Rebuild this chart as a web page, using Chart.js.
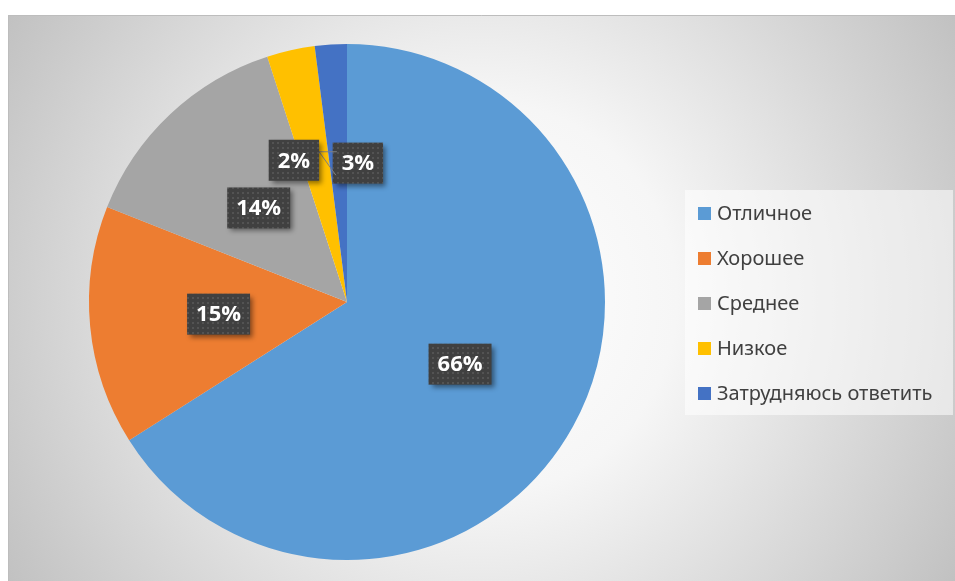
<!DOCTYPE html>
<html lang="ru">
<head>
  <meta charset="UTF-8">
  <title>Оценка</title>
  <script src="https://cdn.jsdelivr.net/npm/chart.js"></script>
  <style>
    html, body { margin: 0; padding: 0; background: #fff; }
    #wrap { position: relative; width: 955px; height: 581px; }
  </style>
</head>
<body>
  <div id="wrap">
    <canvas id="pieChart" width="955" height="581"></canvas>
  </div>

  <script>
    // data
    const categories = ["Отличное", "Хорошее", "Среднее", "Низкое", "Затрудняюсь ответить"];
    const values = [66, 15, 14, 3, 2];
    const colors = ["#5B9BD5", "#ED7D31", "#A5A5A5", "#FFC000", "#4472C4"];

    const W = 955, H = 581;

    // background: framed area with a radial grey gradient
    const bgPlugin = {
      id: "bg",
      beforeDraw(chart) {
        const ctx = chart.ctx;
        ctx.save();
        ctx.fillStyle = "#fff";
        ctx.fillRect(0, 0, W, H);
        const g = ctx.createRadialGradient(481, 298, 0, 481, 298, 560);
        g.addColorStop(0, "#ffffff");
        g.addColorStop(0.35, "#f6f6f6");
        g.addColorStop(1, "#c0c0c0");
        ctx.fillStyle = g;
        ctx.fillRect(8, 15, W - 8, H - 15);
        ctx.strokeStyle = "#bdbdbd";
        ctx.lineWidth = 1;
        ctx.beginPath();
        ctx.moveTo(8.5, H);
        ctx.lineTo(8.5, 15.5);
        ctx.lineTo(W, 15.5);
        ctx.stroke();
        ctx.restore();
      }
    };

    // dotted fill for the label boxes
    function makeDots(ctx) {
      const c = document.createElement("canvas");
      c.width = 5; c.height = 5;
      const x = c.getContext("2d");
      x.fillStyle = "rgba(255,255,255,0.10)";
      x.fillRect(2, 2, 2, 2);
      return ctx.createPattern(c, "repeat");
    }

    // small slices get their labels moved, like in the original
    const nudge = { 3: [39, -13], 4: [-45, -13] };

    const labelPlugin = {
      id: "pctLabels",
      afterDatasetsDraw(chart) {
        const ctx = chart.ctx;
        const meta = chart.getDatasetMeta(0);
        const total = values.reduce((a, b) => a + b, 0);
        const dots = makeDots(ctx);
        ctx.save();
        ctx.font = "bold 22px 'Open Sans', sans-serif";
        ctx.textAlign = "center";
        ctx.textBaseline = "middle";
        meta.data.forEach((arc, i) => {
          const p = arc.getCenterPoint();
          const off = nudge[i] || [0, 0];
          const cx = p.x + off[0], cy = p.y + off[1];
          const txt = Math.round(values[i] / total * 100) + "%";
          const bw = ctx.measureText(txt).width + 18, bh = 41;
          const bx = cx - bw / 2, by = cy - bh / 2;

          if (nudge[i] && off[0] < 0) {
            // leader line back to the slice
            ctx.strokeStyle = "#7f7f7f";
            ctx.lineWidth = 1;
            ctx.beginPath();
            ctx.moveTo(bx + bw, by + 12);
            ctx.lineTo(p.x - 2, by + 12);
            ctx.moveTo(bx + bw, by + 12);
            ctx.lineTo(p.x - 3, p.y + 2);
            ctx.stroke();
          }

          ctx.shadowColor = "rgba(0,0,0,0.45)";
          ctx.shadowBlur = 5;
          ctx.shadowOffsetX = 3;
          ctx.shadowOffsetY = 3;
          ctx.fillStyle = "#404040";
          ctx.fillRect(bx, by, bw, bh);
          ctx.shadowColor = "transparent";
          ctx.fillStyle = dots;
          ctx.fillRect(bx, by, bw, bh);
          ctx.fillStyle = "#ffffff";
          ctx.fillText(txt, cx, cy + 1);
        });
        ctx.restore();
      }
    };

    // legend box on the right
    const legendPlugin = {
      id: "sideLegend",
      afterDraw(chart) {
        const ctx = chart.ctx;
        ctx.save();
        ctx.fillStyle = "rgba(255,255,255,0.55)";
        ctx.fillRect(685, 190, 268, 225);
        ctx.font = "20px 'Noto Sans', sans-serif";
        ctx.textBaseline = "middle";
        categories.forEach((name, i) => {
          const y = 213 + i * 45;
          ctx.fillStyle = colors[i];
          ctx.fillRect(698, y - 6, 13, 13);
          ctx.fillStyle = "#404040";
          ctx.fillText(name, 717, y + 1);
        });
        ctx.restore();
      }
    };

    new Chart(document.getElementById("pieChart"), {
      type: "pie",
      data: {
        labels: categories,
        datasets: [{
          data: values,
          backgroundColor: colors,
          borderWidth: 0
        }]
      },
      options: {
        responsive: false,
        animation: false,
        layout: { padding: { left: 89, right: 350, top: 44, bottom: 21 } },
        plugins: {
          legend: { display: false },
          tooltip: { enabled: false }
        }
      },
      plugins: [bgPlugin, labelPlugin, legendPlugin]
    });
  </script>
</body>
</html>
